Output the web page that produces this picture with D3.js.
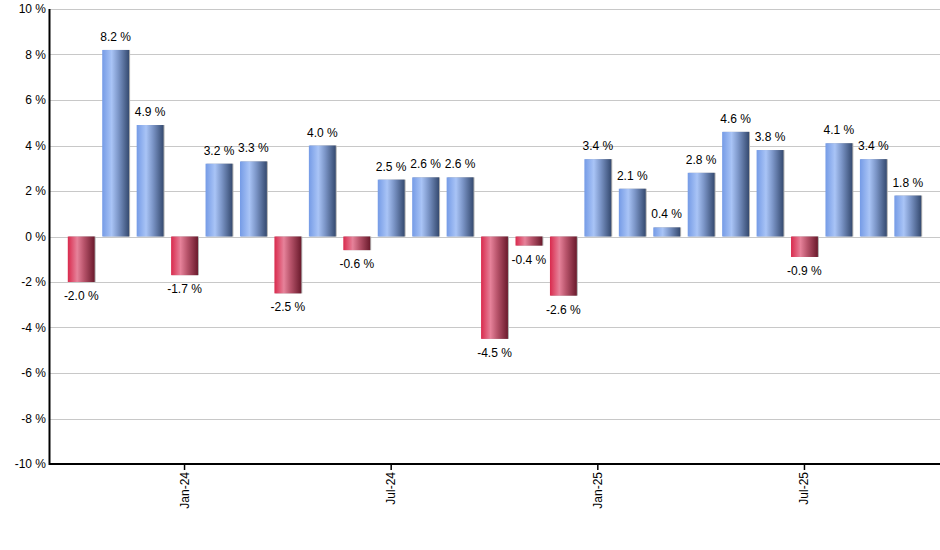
<!DOCTYPE html>
<html>
<head>
<meta charset="utf-8">
<script src="https://cdn.jsdelivr.net/npm/d3@7"></script>
<style>
  body { margin: 0; background: #fff; }
  text { font-family: "Liberation Sans", Arial, sans-serif; }
</style>
</head>
<body>
<div id="chart"></div>
<script>
// monthly returns, Oct-23 .. Oct-25
const months = ["Oct-23","Nov-23","Dec-23","Jan-24","Feb-24","Mar-24","Apr-24","May-24","Jun-24",
                "Jul-24","Aug-24","Sep-24","Oct-24","Nov-24","Dec-24","Jan-25","Feb-25","Mar-25",
                "Apr-25","May-25","Jun-25","Jul-25","Aug-25","Sep-25","Oct-25"];
const returns = [-2.0, 8.2, 4.9, -1.7, 3.2, 3.3, -2.5, 4.0, -0.6, 2.5, 2.6, 2.6, -4.5, -0.4, -2.6,
                 3.4, 2.1, 0.4, 2.8, 4.6, 3.8, -0.9, 4.1, 3.4, 1.8];
const yTicks = [-10, -8, -6, -4, -2, 0, 2, 4, 6, 8, 10];
const xTickLabels = ["Jan-24", "Jul-24", "Jan-25", "Jul-25"];

const width = 940, height = 550;
const svg = d3.select('#chart').append('svg')
    .attr('width', width)
    .attr('height', height);

const defs = svg.append('defs');
function addGrad(id, stops) {
    const g = defs.append('linearGradient').attr('id', id)
        .attr('x1', '0%').attr('x2', '100%').attr('y1', '0%').attr('y2', '0%');
    stops.forEach(s => g.append('stop').attr('offset', s[0]).attr('stop-color', s[1]));
}
addGrad('blueGrad', [['0%', '#759be6'], ['35%', '#a9c4f6'], ['60%', '#7c96c8'], ['100%', '#354a70']]);
addGrad('redGrad', [['0%', '#d92a4d'], ['35%', '#e6829a'], ['60%', '#b8546b'], ['100%', '#6a1a2c']]);

const plotLeft = 50, plotRight = 940, plotTop = 9, plotBottom = 464;

const y = d3.scaleLinear().domain([-10, 10]).range([plotBottom, plotTop]);
const x = d3.scaleBand().domain(months).range([64, 925]).paddingInner(0.22).paddingOuter(0.11);

// grid lines
svg.append('g')
    .selectAll('line')
    .data(yTicks)
    .enter().append('line')
    .attr('x1', plotLeft).attr('x2', plotRight)
    .attr('y1', d => Math.round(y(d)) + 0.5)
    .attr('y2', d => Math.round(y(d)) + 0.5)
    .style('stroke', '#c8c8c8')
    .style('stroke-width', 1);

// bars (with a faint shadow on the right)
const bars = svg.append('g');
bars.selectAll('.shadow')
    .data(returns)
    .enter().append('rect')
    .attr('class', 'shadow')
    .attr('x', (d, i) => x(months[i]) + 1)
    .attr('y', d => Math.min(y(d), y(0)))
    .attr('width', x.bandwidth())
    .attr('height', d => Math.abs(y(d) - y(0)))
    .style('fill', '#b0b0b0');

bars.selectAll('.bar')
    .data(returns)
    .enter().append('rect')
    .attr('class', 'bar')
    .attr('x', (d, i) => x(months[i]))
    .attr('y', d => Math.min(y(d), y(0)))
    .attr('width', x.bandwidth())
    .attr('height', d => Math.abs(y(d) - y(0)))
    .style('fill', d => d >= 0 ? 'url(#blueGrad)' : 'url(#redGrad)');

// value labels
svg.append('g')
    .selectAll('text')
    .data(returns)
    .enter().append('text')
    .attr('x', (d, i) => x(months[i]) + x.bandwidth() / 2)
    .attr('y', d => d >= 0 ? y(d) - 9 : y(d) + 18)
    .attr('text-anchor', 'middle')
    .style('font-size', '12px')
    .style('fill', '#000')
    .text(d => d.toFixed(1) + ' %');

// y axis
const yAxis = svg.append('g');
yAxis.append('line')
    .attr('x1', plotLeft - 0.5).attr('x2', plotLeft - 0.5)
    .attr('y1', plotTop).attr('y2', plotBottom + 1)
    .style('stroke', '#000').style('stroke-width', 2);
yAxis.selectAll('text')
    .data(yTicks)
    .enter().append('text')
    .attr('x', plotLeft - 4)
    .attr('y', d => y(d) + 4)
    .attr('text-anchor', 'end')
    .style('font-size', '12px')
    .text(d => d + ' %');

// x axis
const xAxis = svg.append('g');
xAxis.append('line')
    .attr('x1', plotLeft - 1).attr('x2', plotRight)
    .attr('y1', plotBottom).attr('y2', plotBottom)
    .style('stroke', '#000').style('stroke-width', 2);
xAxis.selectAll('line.tick')
    .data(xTickLabels)
    .enter().append('line')
    .attr('class', 'tick')
    .attr('x1', d => x(d) + x.bandwidth() / 2).attr('x2', d => x(d) + x.bandwidth() / 2)
    .attr('y1', plotBottom).attr('y2', plotBottom + 6)
    .style('stroke', '#000').style('stroke-width', 1.5);
xAxis.selectAll('text')
    .data(xTickLabels)
    .enter().append('text')
    .attr('transform', d => 'translate(' + (x(d) + x.bandwidth() / 2 + 4) + ',' + (plotBottom + 8) + ') rotate(-90)')
    .attr('text-anchor', 'end')
    .style('font-size', '12px')
    .text(d => d);
</script>
</body>
</html>
